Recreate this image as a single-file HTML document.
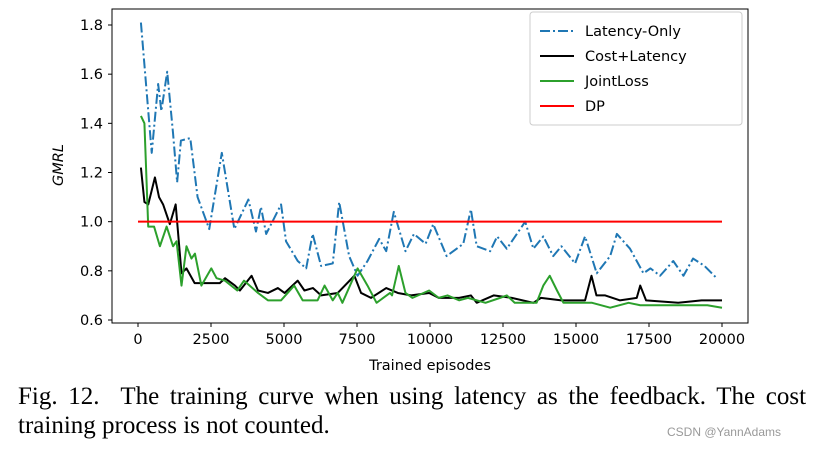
<!DOCTYPE html>
<html><head><meta charset="utf-8"><style>
body{margin:0;background:#fff;width:815px;height:448px;overflow:hidden}
svg text{font-family:"DejaVu Sans","Liberation Sans",sans-serif}
</style></head><body>
<svg width="815" height="448">
<g id="plot"></g>
<text x="18" y="404" font-size="25" xml:space="preserve" style="font-family:'Liberation Serif',serif;word-spacing:4.4px">Fig. 12.  The training curve when using latency as the feedback. The cost</text>
<text x="18" y="433" font-size="25" style="font-family:'Liberation Serif',serif">training process is not counted.</text>
<text x="667" y="436" font-size="12" fill="#999" style="font-family:'Liberation Sans',sans-serif">CSDN @YannAdams</text>
</svg>
<script>
const latencyEp=[100,470,690,800,1000,1200,1340,1470,1790,2040,2440,2870,3300,3780,4040,4210,4390,4900,5070,5470,5760,5980,6270,6670,6890,7230,7520,7860,8260,8500,8760,9160,9450,9850,10110,10570,11140,11400,11600,12060,12300,12630,13260,13540,13880,14220,14500,14970,15310,15710,16170,16400,16850,17310,17550,17880,18330,18680,19010,19400,19820];
const latencyVal=[1.81,1.28,1.56,1.45,1.61,1.36,1.16,1.33,1.34,1.10,0.97,1.28,0.97,1.09,0.96,1.06,0.95,1.07,0.92,0.84,0.81,0.95,0.82,0.83,1.08,0.86,0.78,0.84,0.93,0.88,1.04,0.88,0.95,0.91,0.99,0.86,0.91,1.05,0.90,0.88,0.94,0.89,1.00,0.89,0.94,0.86,0.90,0.83,0.94,0.79,0.86,0.95,0.89,0.79,0.81,0.78,0.84,0.78,0.85,0.82,0.77];
const costEp=[100,220,350,580,720,860,1090,1290,1490,1660,1940,2290,2800,2980,3320,3490,3890,4110,4450,4790,5020,5470,5700,5990,6270,6840,7410,7640,7980,8500,8900,9350,9970,10300,11000,11400,11600,12180,12800,13540,13800,14500,15310,15530,15700,16000,16500,17080,17200,17400,18500,19300,19700,20000];
const costVal=[1.22,1.08,1.07,1.18,1.10,1.07,0.99,1.07,0.79,0.81,0.75,0.75,0.75,0.77,0.74,0.72,0.78,0.72,0.71,0.73,0.71,0.76,0.72,0.73,0.70,0.71,0.78,0.71,0.69,0.73,0.71,0.70,0.71,0.69,0.69,0.70,0.67,0.70,0.69,0.67,0.69,0.68,0.68,0.78,0.70,0.70,0.68,0.69,0.74,0.68,0.67,0.68,0.68,0.68];
const jointEp=[100,220,350,550,750,980,1200,1320,1490,1660,1830,1950,2170,2510,2690,2980,3400,3630,4110,4450,4900,5350,5640,6150,6390,6670,6840,7000,7520,7860,8170,8630,8700,8930,9160,9400,9970,10300,10600,11000,11300,11900,12400,12630,12900,13650,13880,14100,14350,14570,15310,15550,16170,16800,17200,18500,19500,20000];
const jointVal=[1.43,1.40,0.98,0.98,0.90,0.98,0.90,0.92,0.74,0.90,0.85,0.87,0.74,0.81,0.77,0.76,0.72,0.76,0.71,0.68,0.68,0.74,0.68,0.68,0.74,0.68,0.71,0.67,0.81,0.74,0.67,0.71,0.70,0.82,0.71,0.69,0.72,0.69,0.70,0.68,0.69,0.67,0.69,0.70,0.67,0.67,0.74,0.78,0.72,0.67,0.67,0.67,0.65,0.67,0.66,0.66,0.66,0.65];
const dpEp=[0,20000];
const dpVal=[1.0,1.0];
const xTicks=[0,2500,5000,7500,10000,12500,15000,17500,20000];
const yTicks=[0.6,0.8,1.0,1.2,1.4,1.6,1.8];

const NS='http://www.w3.org/2000/svg';
const g=document.getElementById('plot');
const X=v=>138+v/20000*584;
const Y=v=>320-(v-0.6)/1.2*295;
function mk(t,a){const e=document.createElementNS(NS,t);for(const k in a)e.setAttribute(k,a[k]);g.appendChild(e);return e;}
const frame=mk('rect',{x:112,y:9,width:636,height:314,fill:'none',stroke:'#000','stroke-width':1});


xTicks.forEach(t=>{
  const l=mk('line',{x1:X(t),x2:X(t),y1:323,y2:327,stroke:'#000'});
  
  
  const tx=mk('text',{x:X(t),y:344,'text-anchor':'middle','font-size':14.5});
  tx.textContent=t;
  
  
});
yTicks.forEach(t=>{
  const l=mk('line',{x1:108,x2:112,y1:Y(t),y2:Y(t),stroke:'#000'});
  
  
  const tx=mk('text',{x:103,y:Y(t)+5,'text-anchor':'end','font-size':14.5});
  tx.textContent=t.toFixed(1);
  
  
});
const xl=mk('text',{x:430,y:370,'text-anchor':'middle','font-size':14.5});
xl.textContent='Trained episodes';


const yl=mk('text',{x:0,y:0,'text-anchor':'middle','font-size':14.5,'font-style':'italic',transform:'translate(63,165) rotate(-90)'});
yl.textContent='GMRL';


function series(ep,val,color,dash,name){
  const p=mk('polyline',{points:ep.map((e,i)=>X(e)+','+Y(val[i])).join(' '),fill:'none',stroke:color,'stroke-width':2,'stroke-dasharray':dash||'none','stroke-linejoin':'round'});
  
  
}
series(latencyEp,latencyVal,'#1f77b4','10,3,2,3','latency-only-line');
series(costEp,costVal,'#000','', 'cost-latency-line');
series(jointEp,jointVal,'#2ca02c','','jointloss-line');
series(dpEp,dpVal,'#ff0000','','dp-line');
const lb=mk('rect',{x:530,y:12,width:212,height:113,rx:3,fill:'#fff','fill-opacity':0.85,stroke:'#ccc'});


[['Latency-Only','#1f77b4','10,3,2,3'],['Cost+Latency','#000',''],['JointLoss','#2ca02c',''],['DP','#ff0000','']].forEach((d,i)=>{
  const y=31+i*25;
  const l=mk('line',{x1:540,x2:574,y1:y,y2:y,stroke:d[1],'stroke-width':2,'stroke-dasharray':d[2]||'none'});
  
  
  const t=mk('text',{x:585,y:y+5,'font-size':14.5});
  t.textContent=d[0];
  
  
});
</script>
</body></html>
